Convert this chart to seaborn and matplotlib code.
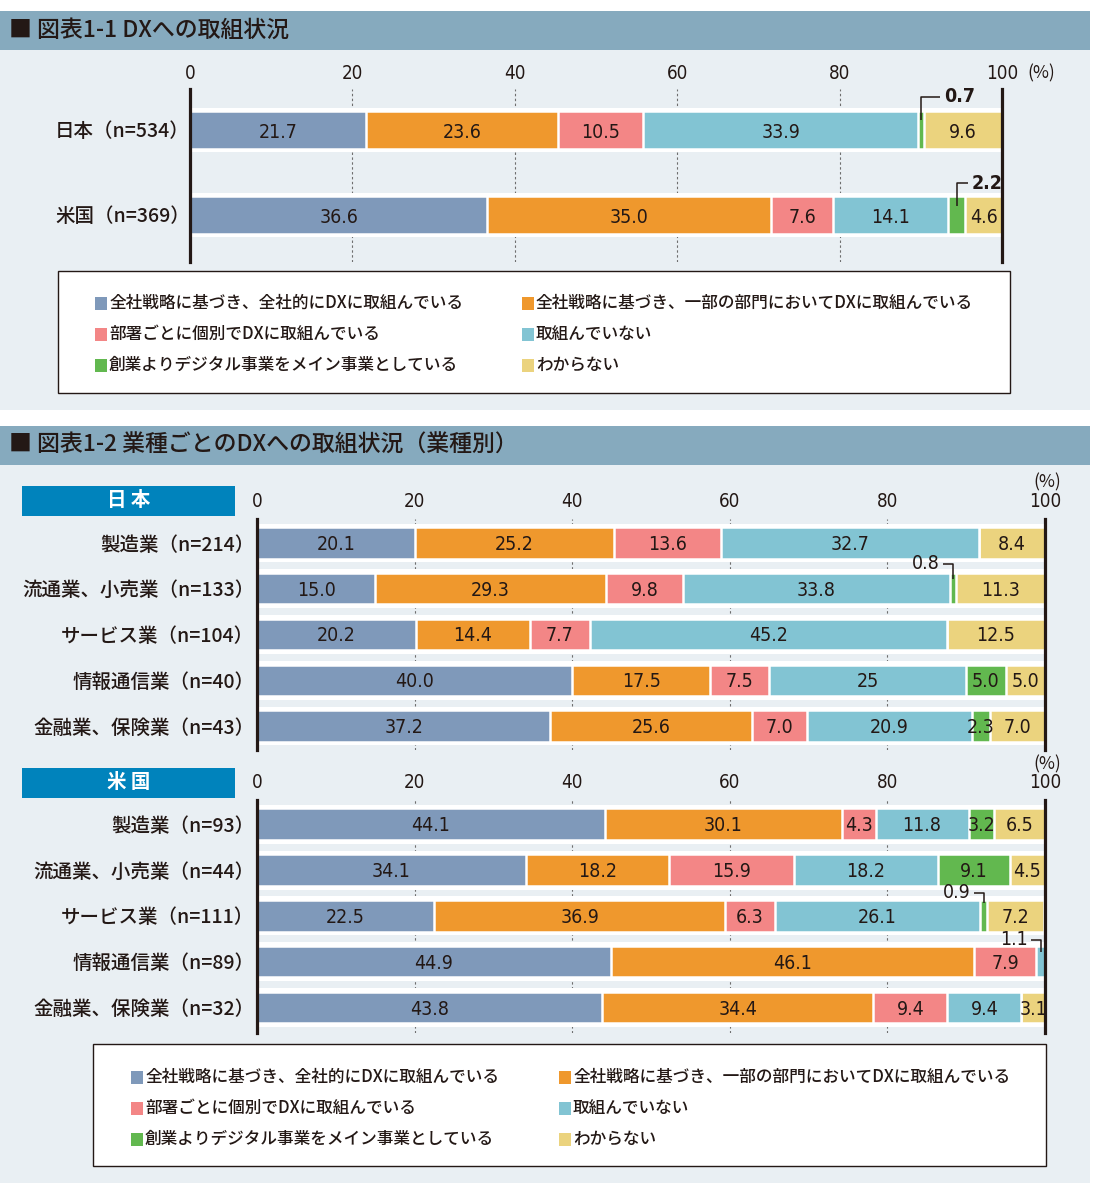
import matplotlib
matplotlib.use("Agg")
import matplotlib.pyplot as plt
import matplotlib.patches as mpatches
import seaborn as sns
import numpy as np

sns.set_theme(style="white")
plt.rcParams['font.family'] = ['Noto Sans CJK JP', 'DejaVu Sans']

W, H = 1100, 1200
NUM_FONT = ['DejaVu Sans']
NUM_STRETCH = 'condensed'
CJK_FONT = ['Noto Sans CJK JP', 'DejaVu Sans']
INK = '#231815'

# ---------------- data ----------------
SERIES = ["全社戦略に基づき、全社的にDXに取組んでいる",
          "全社戦略に基づき、一部の部門においてDXに取組んでいる",
          "部署ごとに個別でDXに取組んでいる",
          "取組んでいない",
          "創業よりデジタル事業をメイン事業としている",
          "わからない"]
COLORS = ["#7F99BA", "#EF982D", "#F38686", "#82C4D3", "#62B84F", "#EBD37E"]

TITLE_1 = "■ 図表1-1 DXへの取組状況"
TITLE_2 = "■ 図表1-2 業種ごとのDXへの取組状況（業種別）"

OVERALL_ROWS = ["日本（n=534）", "米国（n=369）"]
OVERALL_JP = [21.7, 23.6, 10.5, 33.9, 0.7, 9.6]
OVERALL_US = [36.6, 35.0, 7.6, 14.1, 2.2, 4.6]

JP_ROWS = ["製造業（n=214）", "流通業、小売業（n=133）", "サービス業（n=104）",
           "情報通信業（n=40）", "金融業、保険業（n=43）"]
JP_MFG = [20.1, 25.2, 13.6, 32.7, 0.0, 8.4]
JP_RETAIL = [15.0, 29.3, 9.8, 33.8, 0.8, 11.3]
JP_SERVICE = [20.2, 14.4, 7.7, 45.2, 0.0, 12.5]
JP_ICT = [40.0, 17.5, 7.5, 25.0, 5.0, 5.0]
JP_FIN = [37.2, 25.6, 7.0, 20.9, 2.3, 7.0]
JP_TEXT_OVERRIDE = {(3, 3): "25"}

US_ROWS = ["製造業（n=93）", "流通業、小売業（n=44）", "サービス業（n=111）",
           "情報通信業（n=89）", "金融業、保険業（n=32）"]
US_MFG = [44.1, 30.1, 4.3, 11.8, 3.2, 6.5]
US_RETAIL = [34.1, 18.2, 15.9, 18.2, 9.1, 4.5]
US_SERVICE = [22.5, 36.9, 6.3, 26.1, 0.9, 7.2]
US_ICT = [44.9, 46.1, 7.9, 1.1, 0.0, 0.0]
US_FIN = [43.8, 34.4, 9.4, 9.4, 0.0, 3.1]

TICKS = [0, 20, 40, 60, 80, 100]

# ---------------- figure ----------------
fig = plt.figure(figsize=(W / 100, H / 100), dpi=100)
fig.patch.set_facecolor('white')
bg = fig.add_axes([0, 0, 1, 1], zorder=-5)
bg.set_xlim(0, W)
bg.set_ylim(H, 0)
bg.axis('off')

# panels
bg.add_patch(mpatches.Rectangle((0, 50), 1090, 360, color='#E9EFF3', lw=0))
bg.add_patch(mpatches.Rectangle((0, 11), 1090, 39, color='#86AABE', lw=0))
bg.add_patch(mpatches.Rectangle((0, 465), 1090, 718, color='#E9EFF3', lw=0))
bg.add_patch(mpatches.Rectangle((0, 426), 1090, 39, color='#86AABE', lw=0))
bg.text(9, 30.5, TITLE_1, fontsize=16.5, color=INK, va='center', ha='left',
        family=CJK_FONT, weight='medium')
bg.text(9, 445.5, TITLE_2, fontsize=16.5, color=INK, va='center', ha='left',
        family=CJK_FONT, weight='medium')

# country label boxes
for y0, txt in [(486, "日 本"), (768, "米 国")]:
    bg.add_patch(mpatches.Rectangle((22, y0), 213, 30, color='#0083BC', lw=0))
    bg.text(128.5, y0 + 15, txt, fontsize=14, color='white', weight='bold',
            ha='center', va='center', family=CJK_FONT)


def px_axes(x0, y0, x1, y1):
    return fig.add_axes([x0 / W, 1 - y1 / H, (x1 - x0) / W, (y1 - y0) / H])


def num_text(ax, x, y, txt, ha, fs, bold=False):
    ax.text(x, y, txt, ha=ha, va='center', fontsize=fs, color=INK, family=NUM_FONT,
            fontstretch=NUM_STRETCH, weight='bold' if bold else 'medium', zorder=6)


def draw_chart(ax, rows, matrix, ylim, bar_w, band_w, tick_pad, ylab_pad,
               callouts, overrides=None, label_fs=13.5, rowlab_fs=14, callout_bold=False):
    overrides = overrides or {}
    vals = np.array(matrix, dtype=float)
    cum = vals.cumsum(axis=1)
    n = len(rows)
    # white band behind each bar
    sns.barplot(x=[100.0] * n, y=rows, orient='y', color='white', width=band_w,
                saturation=1, errorbar=None, linewidth=0, ax=ax)
    # stacked segments drawn as overlapping cumulative bars
    for k in reversed(range(vals.shape[1])):
        sns.barplot(x=cum[:, k], y=rows, orient='y', color=COLORS[k], width=bar_w,
                    saturation=1, errorbar=None, edgecolor='white', linewidth=1.8, ax=ax)
    # segment labels
    for i in range(n):
        for k in range(vals.shape[1]):
            v = vals[i, k]
            if v == 0:
                continue
            xc = cum[i, k] - v / 2
            txt = overrides.get((i, k), f"{v:.1f}")
            if (i, k) in callouts:
                side, dy, dx, y_in = callouts[(i, k)]
                if side == 'right':
                    ax.plot([xc, xc, xc + dx], [i + y_in, i + dy, i + dy],
                            color=INK, lw=1.1, solid_capstyle='butt', zorder=5)
                    num_text(ax, xc + dx + 0.5, i + dy, txt, 'left', label_fs, callout_bold)
                else:
                    ax.plot([xc - dx, xc, xc], [i + dy, i + dy, i + y_in],
                            color=INK, lw=1.1, solid_capstyle='butt', zorder=5)
                    num_text(ax, xc - dx - 0.4, i + dy, txt, 'right', label_fs, callout_bold)
                continue
            num_text(ax, xc, i + 0.03, txt, 'center', label_fs)

    ax.set_xlim(0, 100)
    ax.set_ylim(*ylim)
    ax.set_facecolor('none')
    ax.set_xlabel('')
    ax.set_ylabel('')
    for s in ['top', 'bottom']:
        ax.spines[s].set_visible(False)
    for s in ['left', 'right']:
        ax.spines[s].set_visible(True)
        ax.spines[s].set_color(INK)
        ax.spines[s].set_linewidth(2.3)
    ax.xaxis.tick_top()
    ax.set_xticks(TICKS)
    ax.set_xticklabels([str(t) for t in TICKS])
    ax.tick_params(axis='x', length=0, pad=tick_pad, labelsize=13.5, colors=INK,
                   top=True, bottom=False, labeltop=True, labelbottom=False)
    ax.tick_params(axis='y', length=0, pad=ylab_pad, labelsize=rowlab_fs, colors=INK,
                   left=True, labelleft=True)
    for lab in ax.get_xticklabels():
        lab.set_family(NUM_FONT)
        lab.set_fontstretch(NUM_STRETCH)
    for lab in ax.get_yticklabels():
        lab.set_family(CJK_FONT)
        lab.set_weight('medium')
    ax.set_axisbelow(True)
    ax.xaxis.grid(True, linestyle=(0, (2.2, 2.2)), color='#6e6e6e', linewidth=0.8)
    ax.yaxis.grid(False)


# ---- Figure 1-1 ----
ax1 = px_axes(190, 89, 1002, 262)
draw_chart(ax1, OVERALL_ROWS, [OVERALL_JP, OVERALL_US], ylim=(1.553, -0.482),
           bar_w=0.447, band_w=0.52, tick_pad=4, ylab_pad=0,
           callouts={(0, 4): ('right', -0.39, 2.3, -0.12),
                     (1, 4): ('right', -0.376, 1.4, -0.10)},
           label_fs=14, rowlab_fs=14, callout_bold=True)
bg.text(1027, 73, "(%)", fontsize=12.5, color=INK, ha='left', va='center', family=CJK_FONT)

# ---- Figure 1-2 Japan ----
ax2 = px_axes(257, 519, 1045, 750)
draw_chart(ax2, JP_ROWS, [JP_MFG, JP_RETAIL, JP_SERVICE, JP_ICT, JP_FIN],
           ylim=(4.525, -0.525), bar_w=0.68, band_w=0.85, tick_pad=6, ylab_pad=2,
           callouts={(1, 4): ('left', -0.546, 1.3, -0.22)},
           overrides=JP_TEXT_OVERRIDE, label_fs=14, rowlab_fs=14)
bg.text(1047, 482, "(%)", fontsize=12.5, color=INK, ha='center', va='center', family=CJK_FONT)

# ---- Figure 1-2 USA ----
ax3 = px_axes(257, 800, 1045, 1033)
draw_chart(ax3, US_ROWS, [US_MFG, US_RETAIL, US_SERVICE, US_ICT, US_FIN],
           ylim=(4.55, -0.525), bar_w=0.68, band_w=0.85, tick_pad=6, ylab_pad=2,
           callouts={(2, 4): ('left', -0.50, 1.3, -0.28),
                     (3, 3): ('left', -0.48, 1.2, -0.22)},
           label_fs=14, rowlab_fs=14)
bg.text(1047, 764, "(%)", fontsize=12.5, color=INK, ha='center', va='center', family=CJK_FONT)


# ---- legends ----
def draw_legend(x0, y0, x1, y1, col_x, row_y):
    bg.add_patch(mpatches.Rectangle((x0, y0), x1 - x0, y1 - y0, facecolor='white',
                                    edgecolor=INK, lw=1.0, zorder=1))
    for idx in range(len(SERIES)):
        r, c = idx // 2, idx % 2
        sx, sy = col_x[c], row_y[r]
        bg.add_patch(mpatches.Rectangle((sx, sy - 6.5), 12, 13, color=COLORS[idx], lw=0, zorder=2))
        bg.text(sx + 14, sy, SERIES[idx], fontsize=12, color=INK, ha='left', va='center',
                family=CJK_FONT, weight='medium', zorder=3)


draw_legend(58, 271, 1010, 393, [95, 522], [303, 334, 365])
draw_legend(93, 1044, 1046, 1166, [131, 559], [1077, 1108, 1139])

fig.savefig("out.png", dpi=100, facecolor='white')
